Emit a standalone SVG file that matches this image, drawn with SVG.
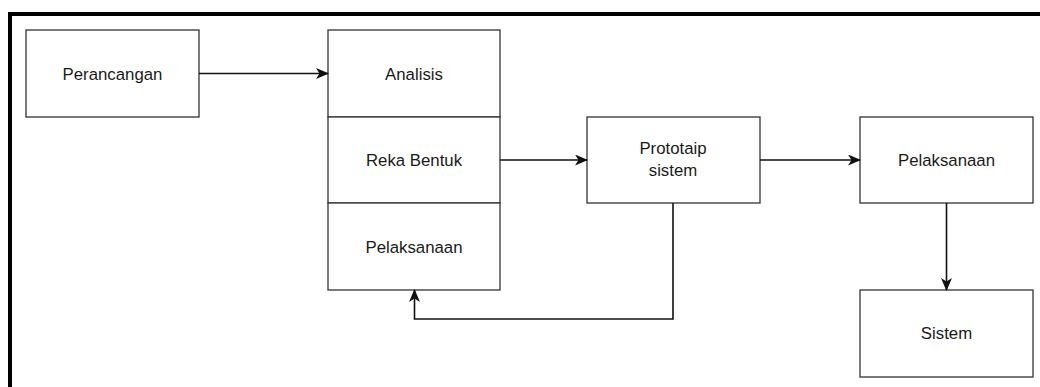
<svg xmlns="http://www.w3.org/2000/svg" width="1040" height="387" viewBox="0 0 1040 387">
  <style>
    .box { fill: #ffffff; stroke: #333333; stroke-width: 1.3; }
    .lbl { font-family: "Liberation Sans", Arial, sans-serif; font-size: 16.8px; fill: #1a1a1a; text-anchor: middle; }
    .edge { fill: none; stroke: #111111; stroke-width: 1.6; }
    .frame { fill: none; stroke: #000000; stroke-width: 4; }
  </style>
  <defs>
    <marker id="arrow" viewBox="0 0 13 11" refX="12" refY="5.5" markerWidth="13" markerHeight="11" markerUnits="userSpaceOnUse" orient="auto">
      <path d="M0,0 L13,5.5 L0,11 L3.5,5.5 Z" fill="#111111"/>
    </marker>
  </defs>

  <rect x="0" y="0" width="1040" height="387" fill="#ffffff"/>

  <!-- outer frame (top and left edges) -->
  <path class="frame" d="M10,387 L10,14 L1040,14"/>

  <g id="perancangan">
    <rect class="box" x="26" y="30" width="173" height="87"/>
    <text class="lbl" x="112.5" y="79.5">Perancangan</text>
  </g>

  <g id="analisis">
    <rect class="box" x="328" y="30" width="172" height="87"/>
    <text class="lbl" x="414" y="79.5">Analisis</text>
  </g>

  <g id="reka-bentuk">
    <rect class="box" x="328" y="117" width="172" height="86"/>
    <text class="lbl" x="414" y="166">Reka Bentuk</text>
  </g>

  <g id="pelaksanaan-1">
    <rect class="box" x="328" y="203" width="172" height="87"/>
    <text class="lbl" x="414" y="252.5">Pelaksanaan</text>
  </g>

  <g id="prototaip">
    <rect class="box" x="587" y="117" width="173" height="86"/>
    <text class="lbl" x="673" y="154">Prototaip</text>
    <text class="lbl" x="673" y="175.5">sistem</text>
  </g>

  <g id="pelaksanaan-2">
    <rect class="box" x="860" y="117" width="173" height="86"/>
    <text class="lbl" x="946.5" y="166">Pelaksanaan</text>
  </g>

  <g id="sistem">
    <rect class="box" x="860" y="290" width="173" height="87"/>
    <text class="lbl" x="946.5" y="339">Sistem</text>
  </g>

  <g id="connectors">
    <path class="edge" d="M199,73.5 L328,73.5" marker-end="url(#arrow)"/>
    <path class="edge" d="M500,160 L587,160" marker-end="url(#arrow)"/>
    <path class="edge" d="M760,160 L860,160" marker-end="url(#arrow)"/>
    <path class="edge" d="M946.5,203 L946.5,290" marker-end="url(#arrow)"/>
    <path class="edge" d="M673,203 L673,319 L414.5,319 L414.5,290" marker-end="url(#arrow)"/>
  </g>
</svg>
